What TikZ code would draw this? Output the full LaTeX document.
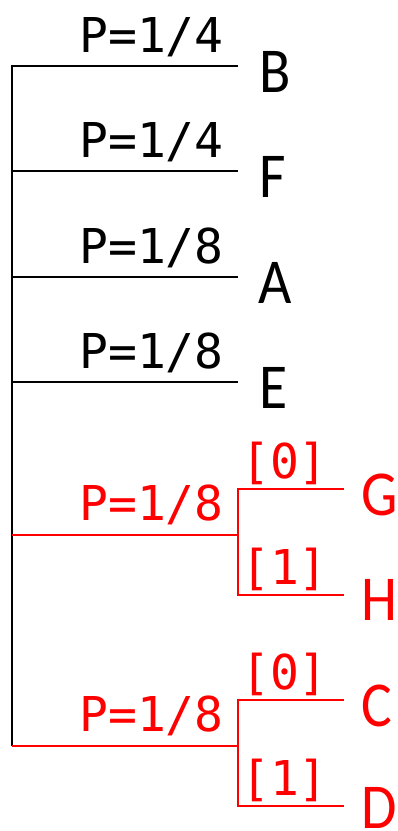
\documentclass[tikz,border=0pt]{standalone}
\usepackage{fontspec}
\usepackage{xcolor}
\usetikzlibrary{positioning}
\newfontfamily\leaffont[FakeStretch=0.9]{Carlito}
\newfontfamily\probfont{DejaVu Sans Mono}
\definecolor{treered}{HTML}{FF0000}
\definecolor{treeblack}{HTML}{000000}

\begin{document}
\begin{tikzpicture}[
  x=1pt, y=-1pt,
  trunk/.style={line width=2pt, treeblack, line join=miter},
  redarm/.style={line width=1.5pt, treered, line join=miter},
  prob/.style={inner sep=0pt, anchor=base east, font=\probfont\fontsize{48}{48}\selectfont},
  leaf/.style={inner sep=0pt, anchor=base west, font=\leaffont\fontsize{64}{64}\selectfont}
]
\useasboundingbox (0,0) rectangle (398,831);

% trunk and branch points
\coordinate (top) at (12,66);
\coordinate (tF) at (12,171);
\coordinate (tA) at (12,277);
\coordinate (tE) at (12,382);
\coordinate (tGH) at (12,535);
\coordinate (bottom) at (12,746);

\coordinate (eB) at (238,66);
\coordinate (eF) at (238,171);
\coordinate (eA) at (238,277);
\coordinate (eE) at (238,382);
\coordinate (jGH) at (238,535);
\coordinate (jCD) at (238,746);

\coordinate (jG) at (238,489);
\coordinate (jH) at (238,595);
\coordinate (jC) at (238,700);
\coordinate (jD) at (238,806);
\coordinate (eG) at (344,489);
\coordinate (eH) at (344,595);
\coordinate (eC) at (344,700);
\coordinate (eD) at (344,806);

\draw[trunk] (eB) -- (top) -- (bottom);
\draw[trunk] (tF) -- (eF);
\draw[trunk] (tA) -- (eA);
\draw[trunk] (tE) -- (eE);

\draw[redarm] (tGH) -- (jGH);
\draw[redarm] (eG) -- (jG) -- (jH) -- (eH);
\draw[redarm] (bottom) -- (jCD);
\draw[redarm] (eC) -- (jC) -- (jD) -- (eD);

% probabilities
\node[prob] (pB) at (224,52) {P=1/4};
\node[prob] (pF) at (224,157) {P=1/4};
\node[prob] (pA) at (224,263) {P=1/8};
\node[prob] (pE) at (224,368) {P=1/8};
\node[prob, treered] (pGH) at (224,520) {P=1/8};
\node[prob, treered] (pCD) at (224,731) {P=1/8};

\node[prob, treered] (bG) at (328,478) {[0]};
\node[prob, treered] (bH) at (328,584) {[1]};
\node[prob, treered] (bC) at (328,689) {[0]};
\node[prob, treered] (bD) at (328,795) {[1]};

% leaves
\node[leaf] (lB) at (259,92) {B};
\node[leaf] (lF) at (259,197) {F};
\node[leaf] (lA) at (258,303) {A};
\node[leaf] (lE) at (259,408) {E};
\node[leaf, treered] (lG) at (361,515) {G};
\node[leaf, treered] (lH) at (361,620) {H};
\node[leaf, treered] (lC) at (361,726) {C};
\node[leaf, treered] (lD) at (361,828) {D};
\end{tikzpicture}
\end{document}
